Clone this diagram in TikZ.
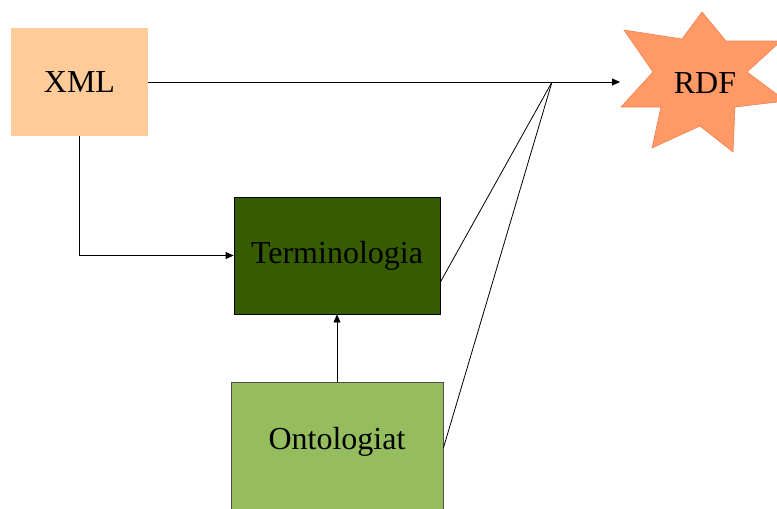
\documentclass[tikz,border=0pt]{standalone}
\usepackage{fontspec}
\setmainfont{Liberation Serif}
\usepackage{tikz}
\usetikzlibrary{arrows.meta}

\definecolor{peach}{HTML}{FFCC99}
\definecolor{darkgreen}{HTML}{365E00}
\definecolor{lightgreen}{HTML}{95BD5E}
\definecolor{salmon}{HTML}{FF9966}
\definecolor{salmonline}{HTML}{F08050}

\begin{document}
\begin{tikzpicture}[x=1pt,y=-1pt,line width=0.8pt,font=\fontsize{32}{38}\selectfont,
  >={Triangle[length=8pt,width=7pt]}]
\tikzstyle{box}=[rectangle,inner sep=0pt,text=black]
\useasboundingbox (0,0) rectangle (777,509);
\clip (0,0) rectangle (777,509);
% star behind the RDF text
\fill[salmon,draw=salmonline,line width=0.6pt] (702,12) -- (726,41) -- (781,41) -- (747,72) -- (786,101)
  -- (735,107) -- (733,152) -- (700,126) -- (652,148) -- (661,107) -- (621,107)
  -- (653,72) -- (624,30) -- (682,39) -- cycle;
\node[box] (rdf) at (705,83) {RDF};
\coordinate (tip) at (620,82);
\coordinate (join) at (552,82);
\node[box,fill=peach,minimum width=137pt,minimum height=108pt] (xml) at (79.5,82) {XML};
\node[box,fill=darkgreen,draw=black,minimum width=206pt,minimum height=117pt] (term) at (337,255.5) {Terminologia};
\node[box,fill=lightgreen,draw=black!70,minimum width=212pt,minimum height=140pt,
  label={[yshift=10pt]center:Ontologiat}] (onto) at (337,452) {};
\path[->] (xml.east) edge (tip);
\draw[->] (xml.south) |- (term.west);
\path[->] (onto.north) edge (term.south);
\path (term.east|-0,282) edge (join);
\path (onto.east|-0,448) edge (join);
\end{tikzpicture}
\end{document}
